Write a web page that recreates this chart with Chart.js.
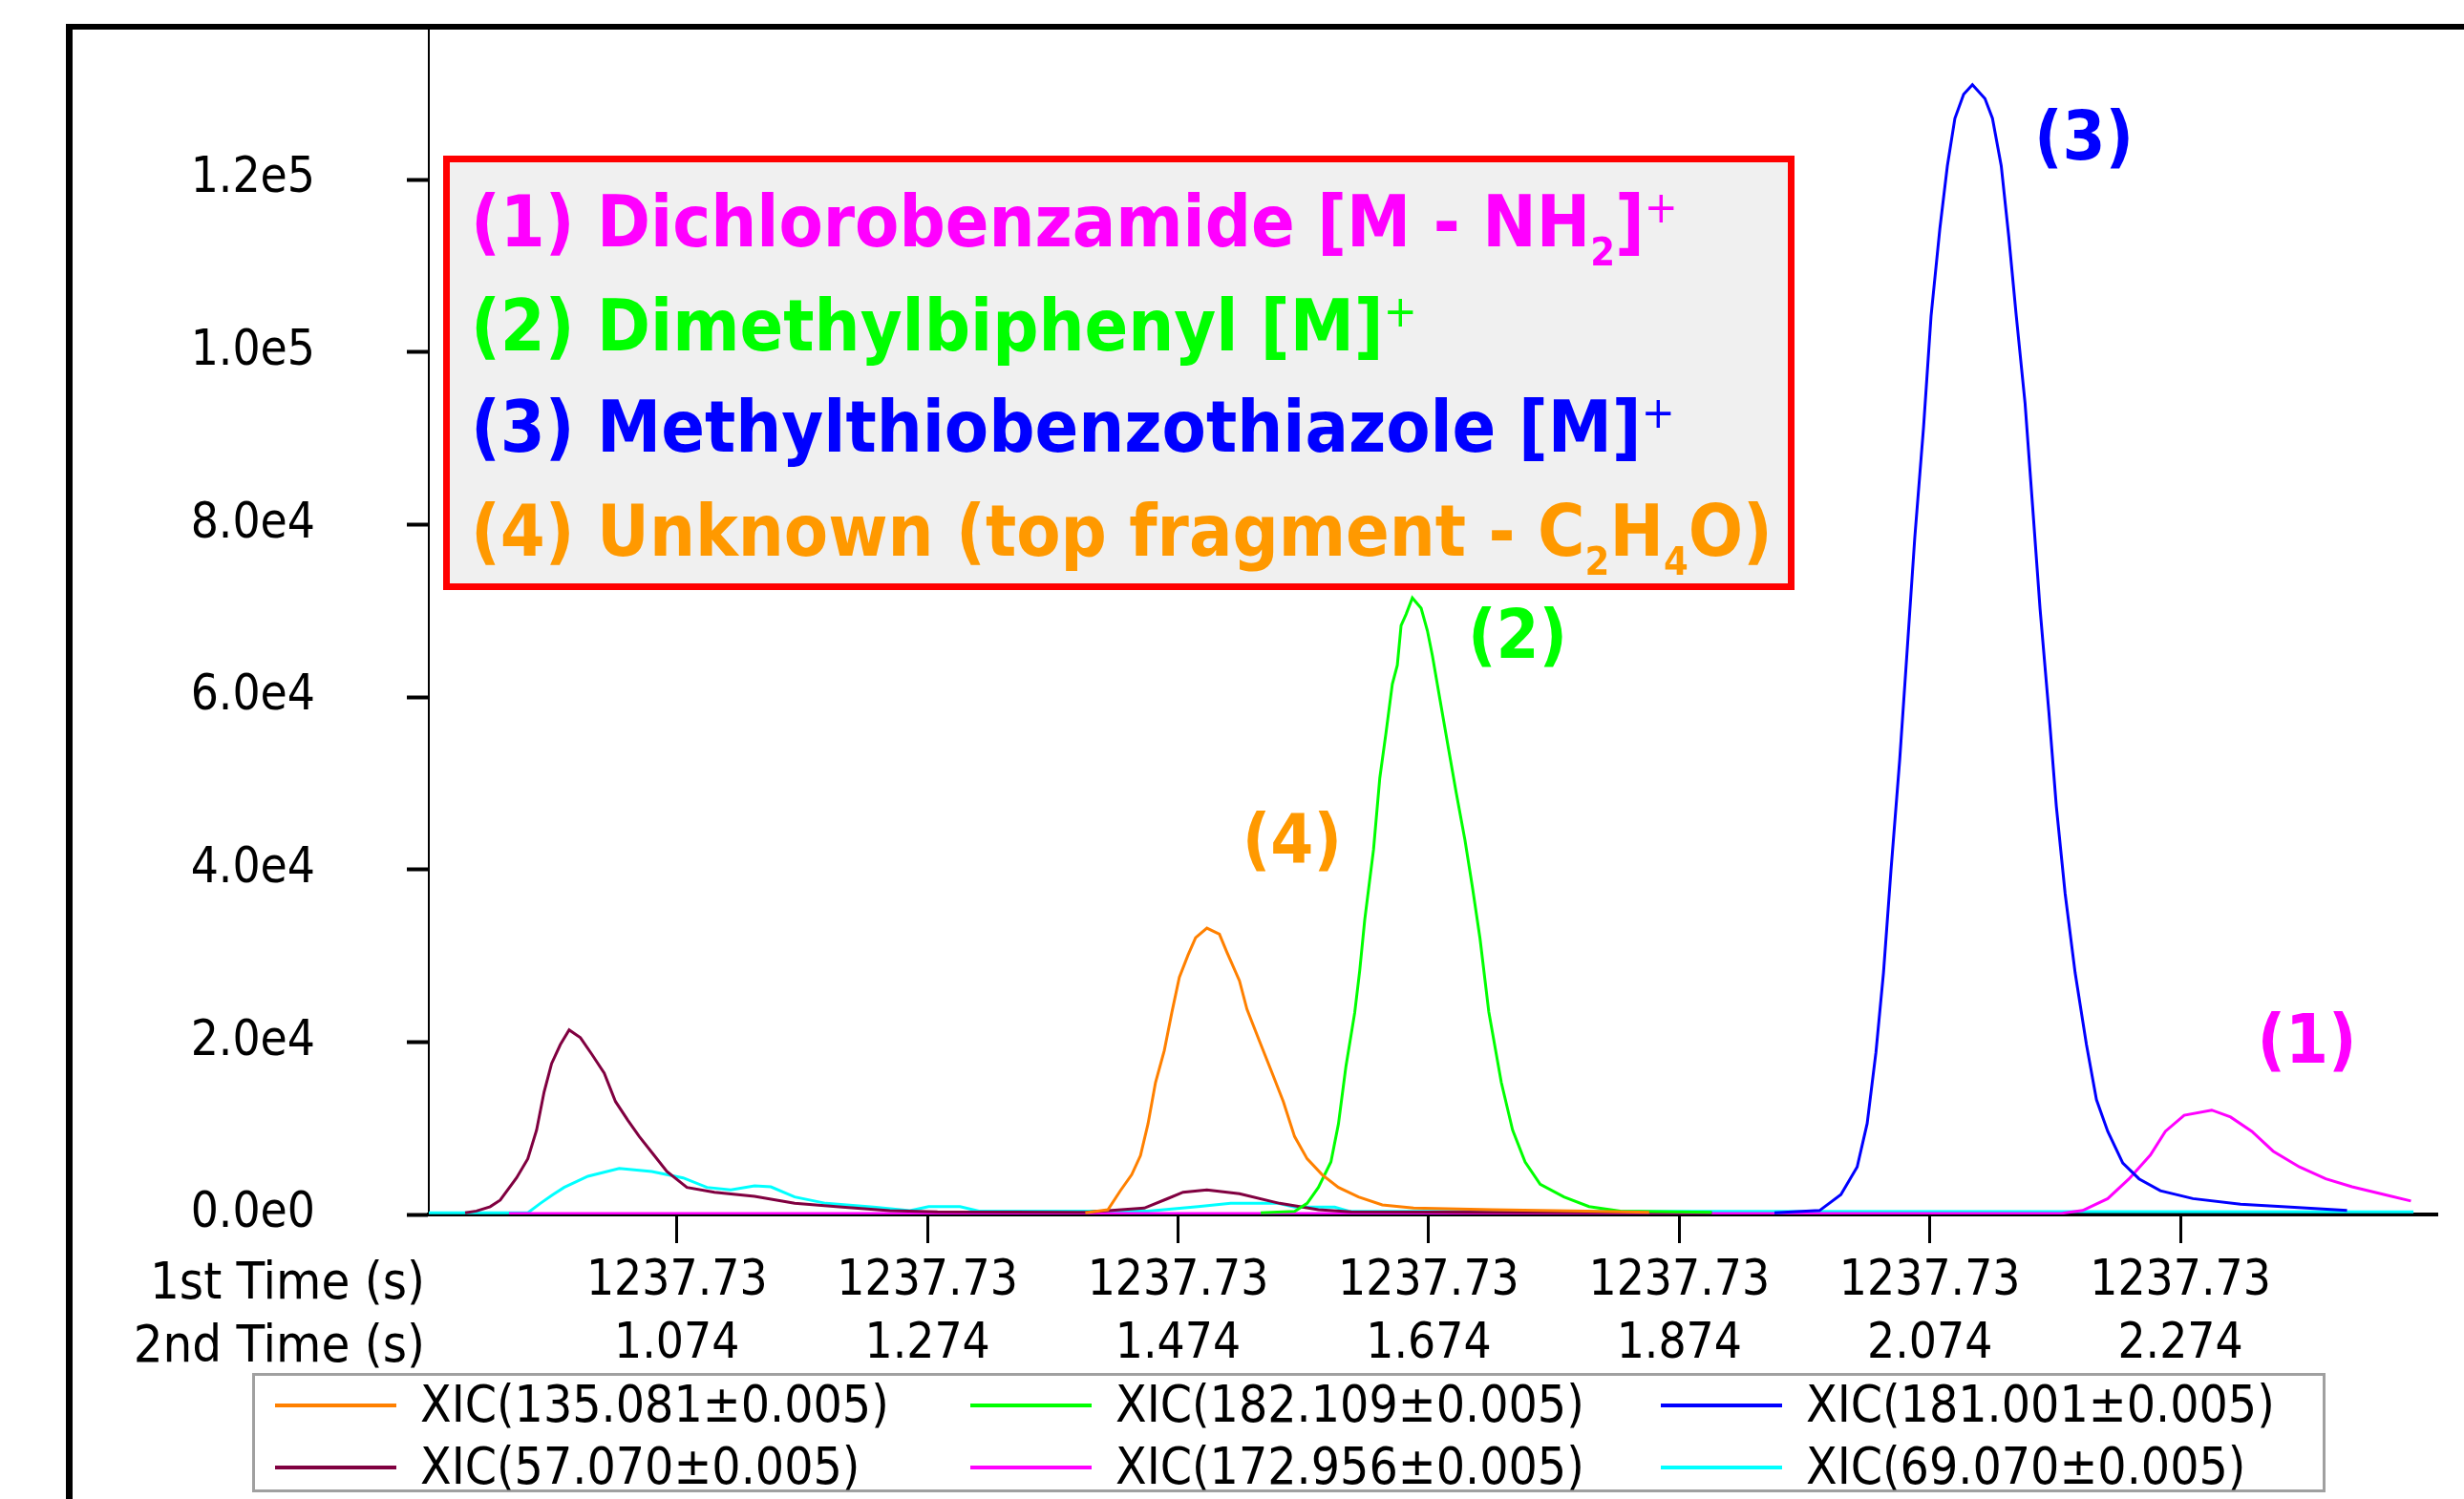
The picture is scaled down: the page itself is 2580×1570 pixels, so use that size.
<!DOCTYPE html>
<html>
<head>
<meta charset="utf-8">
<script src="https://cdn.jsdelivr.net/npm/chart.js@4.4.1/dist/chart.umd.min.js"></script>
<style>
  html, body { margin: 0; padding: 0; background: #fff; }
  #wrap { width: 2580px; height: 1570px; position: relative; }
</style>
</head>
<body>
<div id="wrap"><canvas id="xic"></canvas></div>
<script>
// x ticks: 2nd dimension time (s), the 1st dimension stays at 1237.73 s
const xTicks = [1.074, 1.274, 1.474, 1.674, 1.874, 2.074, 2.274];
const firstTimeLabels = ["1237.73", "1237.73", "1237.73", "1237.73", "1237.73", "1237.73", "1237.73"];
const secondTimeLabels = ["1.074", "1.274", "1.474", "1.674", "1.874", "2.074", "2.274"];
const yTicks = [0, 20000, 40000, 60000, 80000, 100000, 120000];
const yTickLabels = ["0.0e0", "2.0e4", "4.0e4", "6.0e4", "8.0e4", "1.0e5", "1.2e5"];

const seriesNames = ["XIC(135.081±0.005)", "XIC(182.109±0.005)", "XIC(181.001±0.005)",
                     "XIC(57.070±0.005)", "XIC(172.956±0.005)", "XIC(69.070±0.005)"];
const seriesColors = ["#ff8000", "#00ff00", "#0000ff", "#800040", "#ff00ff", "#00ffff"];

// XIC(135.081) - unknown (4)
const orangeX = [1.400, 1.418, 1.428, 1.437, 1.444, 1.450, 1.456, 1.463, 1.469, 1.475, 1.482, 1.488, 1.497,
                 1.507, 1.513, 1.523, 1.529, 1.539, 1.548, 1.558, 1.567, 1.577, 1.589, 1.602, 1.618, 1.637,
                 1.662, 1.725, 1.800, 1.850];
const orangeY = [200, 550, 2770, 4610, 6830, 10500, 15300, 19000, 23400, 27500, 30100, 32100, 33200,
                 32500, 30400, 27100, 23800, 20100, 16800, 13100, 9040, 6460, 4610, 3140, 2030, 1110,
                 740, 550, 400, 250];

// XIC(182.109) - dimethylbiphenyl (2)
const greenX = [1.540, 1.567, 1.577, 1.586, 1.596, 1.602, 1.608, 1.615, 1.619, 1.623, 1.630, 1.635, 1.640,
                1.645, 1.649, 1.652, 1.656, 1.661, 1.668, 1.673, 1.677, 1.684, 1.690, 1.696, 1.703, 1.709,
                1.715, 1.722, 1.732, 1.741, 1.751, 1.763, 1.782, 1.802, 1.827, 1.900];
const greenY = [200, 370, 1290, 3140, 6090, 10500, 17200, 23400, 28300, 34200, 42300, 50600, 55900,
                61500, 63700, 68300, 69600, 71500, 70300, 67700, 64800, 58900, 53900, 48900, 43400, 37900,
                32000, 23500, 15300, 9780, 6090, 3510, 2030, 920, 400, 250];

// XIC(181.001) - methylthiobenzothiazole (3)
const blueX = [1.950, 1.986, 2.003, 2.016, 2.024, 2.031, 2.037, 2.043, 2.050, 2.056, 2.062, 2.069, 2.075,
               2.082, 2.088, 2.094, 2.101, 2.108, 2.118, 2.124, 2.131, 2.137, 2.143, 2.150, 2.156, 2.162,
               2.169, 2.175, 2.182, 2.190, 2.199, 2.207, 2.216, 2.228, 2.241, 2.258, 2.284, 2.322, 2.365, 2.407];
const blueY = [200, 460, 2300, 5510, 10560, 18800, 28000, 39900, 52800, 65600, 78500, 91300, 104200,
               114300, 121600, 127100, 129900, 131000, 129400, 127100, 121600, 113400, 104200, 94100, 82200, 70200,
               58300, 47300, 37200, 28000, 19700, 13300, 9640, 5970, 4130, 2750, 1840, 1190, 830, 460];

// XIC(57.070)
const maroonX = [0.905, 0.914, 0.925, 0.933, 0.946, 0.955, 0.962, 0.968, 0.974, 0.981, 0.988, 0.997, 1.006,
                 1.016, 1.025, 1.035, 1.044, 1.054, 1.066, 1.082, 1.104, 1.136, 1.168, 1.206, 1.244, 1.282,
                 1.400, 1.447, 1.465, 1.478, 1.497, 1.523, 1.555, 1.586, 1.612, 1.750, 1.900];
const maroonY = [200, 400, 900, 1660, 4240, 6460, 9780, 14200, 17500, 19700, 21400, 20500, 18600,
                 16400, 13100, 10900, 9040, 7200, 4980, 3140, 2580, 2100, 1290, 850, 440, 300,
                 250, 740, 1800, 2580, 2840, 2400, 1290, 550, 300, 250, 200];

// XIC(172.956) - dichlorobenzamide (1)
const magentaX = [0.940, 2.180, 2.196, 2.216, 2.233, 2.250, 2.262, 2.277, 2.299, 2.314, 2.331, 2.348,
                  2.369, 2.390, 2.411, 2.437, 2.458];
const magentaY = [100, 150, 460, 1840, 4130, 6890, 9640, 11500, 12100, 11300, 9640, 7340,
                  5510, 4130, 3210, 2300, 1560];

// XIC(69.070)
const cyanX = [0.876, 0.955, 0.965, 0.975, 0.984, 1.003, 1.028, 1.054, 1.079, 1.098, 1.117, 1.136, 1.149,
               1.168, 1.193, 1.231, 1.260, 1.275, 1.300, 1.315, 1.450, 1.490, 1.516, 1.554, 1.567, 1.599,
               1.610, 2.460];
const cyanY = [200, 200, 1290, 2300, 3140, 4430, 5350, 4980, 4240, 3140, 2840, 3320, 3210,
               2030, 1290, 850, 450, 920, 920, 400, 400, 920, 1290, 1290, 850, 850,
               400, 300];

// peak labels, placed in data units
const peakLabels = ["(1)", "(2)", "(3)", "(4)"];
const peakLabelX = [2.375, 1.745, 2.197, 1.565];
const peakLabelY = [19700, 66600, 124400, 42950];
const peakColors = ["#ff00ff", "#00ff00", "#0000ff", "#ff9900"];

// compound box, one entry per line; sub / sup parts marked
const compoundLines = [
  [{ t: "(1) Dichlorobenzamide [M - NH" }, { t: "2", sub: true }, { t: "]" }, { t: "+", sup: true }],
  [{ t: "(2) Dimethylbiphenyl [M]" }, { t: "+", sup: true }],
  [{ t: "(3) Methylthiobenzothiazole [M]" }, { t: "+", sup: true }],
  [{ t: "(4) Unknown (top fragment - C" }, { t: "2", sub: true }, { t: "H" }, { t: "4", sub: true }, { t: "O)" }]
];
const compoundColors = ["#ff00ff", "#00ff00", "#0000ff", "#ff9900"];

const FONT = '"DejaVu Sans Condensed", "DejaVu Sans", sans-serif';

function pts(xs, ys) {
  return xs.map((x, i) => ({ x: x, y: ys[i] }));
}

const allX = [orangeX, greenX, blueX, maroonX, magentaX, cyanX];
const allY = [orangeY, greenY, blueY, maroonY, magentaY, cyanY];

const datasets = seriesNames.map((name, i) => ({
  label: name,
  data: pts(allX[i], allY[i]),
  borderColor: seriesColors[i],
  backgroundColor: seriesColors[i],
  borderWidth: 3,
  pointRadius: 0,
  tension: 0,
  fill: false
}));

function drawRich(ctx, segs, x, y, size) {
  for (const s of segs) {
    let fs = size, dy = 0, w = "bold ";
    if (s.sub) { fs = size * 0.55; dy = size * 0.26; }
    if (s.sup) { fs = size * 0.62; dy = -size * 0.33; w = ""; }
    ctx.font = w + fs + "px " + FONT;
    ctx.fillText(s.t, x, y + dy);
    x += ctx.measureText(s.t).width;
  }
}

const decor = {
  id: "decor",
  afterDraw(chart) {
    const ctx = chart.ctx;
    const a = chart.chartArea;
    const xs = chart.scales.x, ys = chart.scales.y;
    ctx.save();

    // outer frame (runs off the picture at right and bottom)
    ctx.fillStyle = "#000";
    ctx.fillRect(69, 25, chart.width, 6);
    ctx.fillRect(69, 25, 7, chart.height);

    // row titles for the two x label rows
    ctx.font = "54px " + FONT;
    ctx.textAlign = "right";
    ctx.textBaseline = "alphabetic";
    ctx.fillText("1st Time (s)", a.left - 4, a.bottom + 88);
    ctx.fillText("2nd Time (s)", a.left - 4, a.bottom + 154);

    // compound box
    ctx.fillStyle = "#f0f0f0";
    ctx.fillRect(467, 166, 1409, 449);
    ctx.strokeStyle = "#ff0000";
    ctx.lineWidth = 7;
    ctx.strokeRect(467.5, 166.5, 1408, 448);
    ctx.textAlign = "left";
    const baselines = [258, 367, 473, 582];
    compoundLines.forEach((segs, i) => {
      ctx.fillStyle = compoundColors[i];
      drawRich(ctx, segs, 493, baselines[i], 75);
    });

    // peak labels
    ctx.textAlign = "center";
    ctx.textBaseline = "middle";
    ctx.font = "bold 72px " + FONT;
    peakLabels.forEach((t, i) => {
      ctx.fillStyle = peakColors[i];
      ctx.fillText(t, xs.getPixelForValue(peakLabelX[i]), ys.getPixelForValue(peakLabelY[i]));
    });

    // legend box
    ctx.strokeStyle = "#a0a0a0";
    ctx.lineWidth = 3;
    ctx.strokeRect(265.5, 1439.5, 2168, 122);
    const cols = [288, 1016, 1739];
    const rows = [1472, 1537];
    ctx.textAlign = "left";
    ctx.textBaseline = "middle";
    ctx.font = "53px " + FONT;
    seriesNames.forEach((name, i) => {
      const cx = cols[i % 3], cy = rows[Math.floor(i / 3)];
      ctx.fillStyle = seriesColors[i];
      ctx.fillRect(cx, cy - 2, 127, 4);
      ctx.fillStyle = "#000";
      ctx.fillText(name, cx + 152, cy + 3);
    });

    ctx.restore();
  }
};

new Chart(document.getElementById("xic"), {
  type: "line",
  data: { datasets: datasets },
  plugins: [decor],
  options: {
    responsive: true,
    maintainAspectRatio: false,
    animation: false,
    layout: { padding: { top: 31, right: 28, left: 0, bottom: 0 } },
    plugins: { legend: { display: false }, tooltip: { enabled: false } },
    scales: {
      x: {
        type: "linear",
        min: 0.876,
        max: 2.479,
        afterFit(scale) {
          scale.height = 298;
          scale.paddingLeft = 0;
          scale.paddingRight = 0;
        },
        afterBuildTicks(scale) { scale.ticks = xTicks.map(v => ({ value: v })); },
        grid: { drawOnChartArea: false, drawTicks: true, tickLength: 30, tickWidth: 3, tickColor: "#000" },
        border: { display: true, color: "#000", width: 4 },
        ticks: {
          color: "#000",
          font: { family: FONT, size: 51, lineHeight: 1.29 },
          padding: 8,
          maxRotation: 0,
          autoSkip: false,
          callback: (v, i) => [firstTimeLabels[i], secondTimeLabels[i]]
        }
      },
      y: {
        min: 0,
        max: 137400,
        afterFit(scale) {
          scale.width = 449;
          scale.paddingTop = 0;
          scale.paddingBottom = 0;
        },
        afterBuildTicks(scale) { scale.ticks = yTicks.map(v => ({ value: v })); },
        grid: { drawOnChartArea: false, drawTicks: true, tickLength: 23, tickWidth: 4, tickColor: "#000" },
        border: { display: true, color: "#000", width: 2 },
        ticks: {
          color: "#000",
          font: { family: FONT, size: 51 },
          padding: 96,
          callback: (v, i) => yTickLabels[i]
        }
      }
    }
  }
});
</script>
</body>
</html>
